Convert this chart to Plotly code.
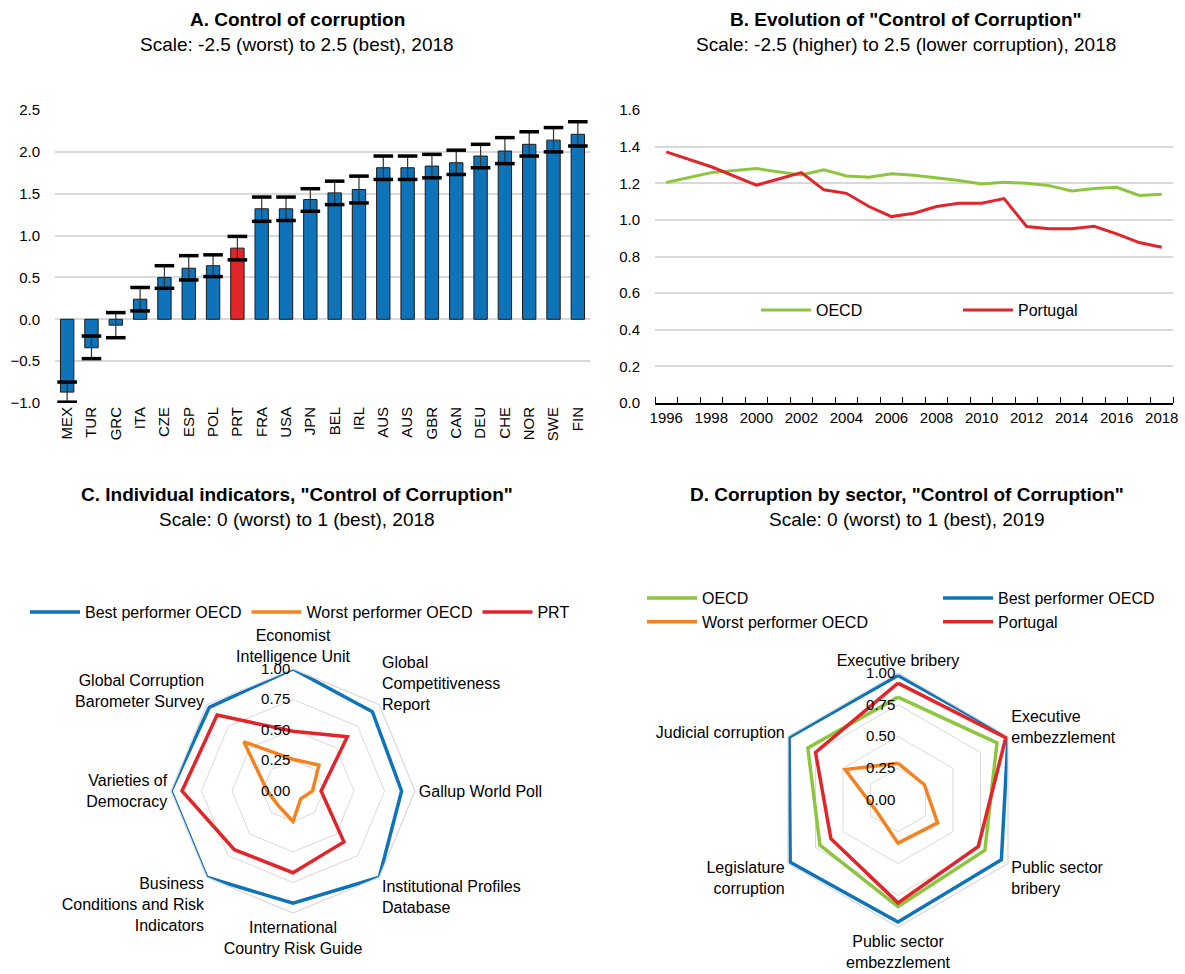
import plotly.graph_objects as go

W, H = 1185, 974
FONT = "Liberation Sans, Arial, sans-serif"

BLUE = "#0f73ba"
RED = "#e2242b"
GREEN = "#8cc63f"
ORANGE = "#f58220"
GRID = "#d9d9d9"

# ---------------- Panel A data ----------------
countries = ["MEX", "TUR", "GRC", "ITA", "CZE", "ESP", "POL", "PRT", "FRA", "USA", "JPN",
             "BEL", "IRL", "AUS", "AUS", "GBR", "CAN", "DEU", "CHE", "NOR", "SWE", "FIN"]
estimate = [-0.87, -0.34, -0.07, 0.24, 0.50, 0.61, 0.64, 0.85, 1.32, 1.32, 1.43,
            1.51, 1.55, 1.81, 1.81, 1.83, 1.87, 1.95, 2.01, 2.09, 2.14, 2.21]
ci_low = [-0.99, -0.47, -0.22, 0.10, 0.37, 0.47, 0.51, 0.71, 1.17, 1.18, 1.29,
          1.37, 1.39, 1.67, 1.67, 1.69, 1.73, 1.81, 1.86, 1.95, 2.00, 2.07]
ci_high = [-0.75, -0.20, 0.08, 0.38, 0.64, 0.76, 0.77, 0.99, 1.46, 1.46, 1.56,
           1.65, 1.71, 1.95, 1.95, 1.97, 2.02, 2.09, 2.17, 2.24, 2.29, 2.36]
highlight = "PRT"
a_yticks = [-1.0, -0.5, 0.0, 0.5, 1.0, 1.5, 2.0, 2.5]

# ---------------- Panel B data ----------------
years = [1996, 1998, 2000, 2002, 2003, 2004, 2005, 2006, 2007, 2008, 2009, 2010,
         2011, 2012, 2013, 2014, 2015, 2016, 2017, 2018]
oecd_cc = [1.204, 1.258, 1.280, 1.245, 1.273, 1.240, 1.233, 1.252, 1.244, 1.231,
           1.215, 1.196, 1.205, 1.200, 1.187, 1.158, 1.171, 1.178, 1.133, 1.140]
prt_cc = [1.371, 1.290, 1.189, 1.258, 1.164, 1.145, 1.073, 1.018, 1.036, 1.073,
          1.091, 1.091, 1.116, 0.964, 0.951, 0.951, 0.965, 0.924, 0.876, 0.851]
b_xlabels = [1996, 1998, 2000, 2002, 2004, 2006, 2008, 2010, 2012, 2014, 2016, 2018]

# ---------------- Panel C data ----------------
indicators = ["Economist<br>Intelligence Unit", "Global<br>Competitiveness<br>Report",
              "Gallup World Poll", "Institutional Profiles<br>Database",
              "International<br>Country Risk Guide",
              "Business<br>Conditions and Risk<br>Indicators",
              "Varieties of<br>Democracy", "Global Corruption<br>Barometer Survey"]
c_best = [1.00, 0.92, 0.89, 1.00, 0.92, 1.00, 1.00, 0.97]
c_worst = [0.26, 0.30, 0.16, 0.09, 0.25, 0.17, 0.21, 0.57]
c_prt = [0.49, 0.63, 0.23, 0.59, 0.67, 0.68, 0.91, 0.88]

# ---------------- Panel D data ----------------
sectors = ["Executive bribery", "Executive<br>embezzlement", "Public sector<br>bribery",
           "Public sector<br>embezzlement", "Legislature<br>corruption", "Judicial corruption"]
d_oecd = [0.81, 0.90, 0.79, 0.84, 0.71, 0.82]
d_best = [0.98, 1.00, 0.94, 0.96, 0.98, 0.99]
d_worst = [0.29, 0.24, 0.36, 0.34, 0.19, 0.48]
d_prt = [0.92, 0.98, 0.73, 0.81, 0.61, 0.75]

radar_ticks = [0.0, 0.25, 0.5, 0.75, 1.0]


def px_x(p):
    return p / W


def px_y(p):
    return (H - p) / H


fig = go.Figure()

# ---------- Panel A ----------
idx = list(range(len(countries)))
bar_colors = [RED if c == highlight else BLUE for c in countries]
fig.add_trace(go.Bar(
    x=idx, y=estimate, width=0.55,
    marker=dict(color=bar_colors, line=dict(color="#1a1a1a", width=1)),
    error_y=dict(type="data", symmetric=False,
                 array=[h - e for h, e in zip(ci_high, estimate)],
                 arrayminus=[e - l for e, l in zip(estimate, ci_low)],
                 color="#333333", thickness=1.2, width=0),
    showlegend=False, xaxis="x", yaxis="y"))
fig.add_trace(go.Scatter(
    x=idx + idx, y=ci_low + ci_high, mode="markers",
    marker=dict(symbol="line-ew", size=14, line=dict(color="black", width=3.5)),
    showlegend=False, hoverinfo="skip", xaxis="x", yaxis="y"))

# ---------- Panel B ----------
fig.add_trace(go.Scatter(x=years, y=oecd_cc, mode="lines", name="OECD",
                         line=dict(color=GREEN, width=3), xaxis="x3", yaxis="y3",
                         legend="legend"))
fig.add_trace(go.Scatter(x=years, y=prt_cc, mode="lines", name="Portugal",
                         line=dict(color=RED, width=3), xaxis="x3", yaxis="y3",
                         legend="legend"))


def closed(v):
    return v + v[:1]


# ---------- Panel C ----------
for vals, name, col in [(c_best, "Best performer OECD", BLUE),
                        (c_worst, "Worst performer OECD", ORANGE),
                        (c_prt, "PRT", RED)]:
    fig.add_trace(go.Scatterpolar(r=closed(vals), theta=closed(indicators), mode="lines",
                                  name=name, line=dict(color=col, width=3.5),
                                  subplot="polar", legend="legend2"))

# ---------- Panel D ----------
for vals, name, col, lg in [(d_oecd, "OECD", GREEN, "legend3"),
                            (d_worst, "Worst performer OECD", ORANGE, "legend3"),
                            (d_best, "Best performer OECD", BLUE, "legend4"),
                            (d_prt, "Portugal", RED, "legend4")]:
    fig.add_trace(go.Scatterpolar(r=closed(vals), theta=closed(sectors), mode="lines",
                                  name=name, line=dict(color=col, width=3.5),
                                  subplot="polar2", legend=lg))

tickfont = dict(family=FONT, size=15, color="black")
legfont = dict(family=FONT, size=16, color="black")

# domains
a_dom_x = [px_x(55), px_x(590)]
b_dom_x = [px_x(655), px_x(1173)]
top_dom_y = [px_y(403), px_y(110)]
a_range = [-1.0, 2.5]
zero_pos = top_dom_y[0] + (0 - a_range[0]) / (a_range[1] - a_range[0]) * (top_dom_y[1] - top_dom_y[0])

polar_common_radial = dict(range=[0, 1], tickvals=radar_ticks, tickformat=".2f",
                           showline=False, ticks="", angle=90, tickangle=90,
                           side="counterclockwise",
                           gridcolor=GRID, gridwidth=1.2,
                           tickfont=dict(family=FONT, size=15, color="black"))
polar_common_ang = dict(direction="clockwise", rotation=90, showgrid=False,
                        showline=True, linecolor=GRID, linewidth=1.2, ticks="",
                        tickfont=dict(family=FONT, size=16, color="black"))

fig.update_layout(
    width=W, height=H, margin=dict(l=0, r=0, t=0, b=0, autoexpand=False),
    paper_bgcolor="white", plot_bgcolor="white",
    font=dict(family=FONT, size=16, color="black"),
    xaxis=dict(domain=a_dom_x, anchor="y", range=[-0.5, len(countries) - 0.5],
               tickvals=idx, ticktext=countries, tickangle=-90, ticks="",
               showline=False, showgrid=False, zeroline=False, tickfont=tickfont,
               ticklabelstandoff=0),
    xaxis2=dict(domain=a_dom_x, overlaying="x", anchor="free", position=zero_pos,
                range=[-0.5, len(countries) - 0.5],
                tickvals=[i - 0.5 for i in range(len(countries) + 1)],
                ticks="inside", ticklen=5, tickcolor="black", tickwidth=1.2,
                showticklabels=False, showline=True, linecolor="black", linewidth=1.5,
                showgrid=False, zeroline=False),
    yaxis=dict(domain=top_dom_y, anchor="x", range=a_range, tickvals=a_yticks,
               tickformat=".1f", showgrid=True, gridcolor=GRID, gridwidth=1.5,
               zeroline=False, showline=False, ticks="", tickfont=tickfont,
               ticklabelstandoff=14),
    xaxis3=dict(domain=b_dom_x, anchor="y3", range=[1995.5, 2018.5], tickvals=b_xlabels,
                ticks="", tickangle=0, showline=True, linecolor="black", linewidth=1.5,
                showgrid=False, zeroline=False, tickfont=tickfont,
                minor=dict(tickvals=[y + 0.5 for y in range(1995, 2019)], ticks="inside",
                           ticklen=6, tickcolor="black", tickwidth=1.2, showgrid=False)),
    yaxis3=dict(domain=top_dom_y, anchor="x3", range=[0, 1.6], dtick=0.2, tickformat=".1f",
                showgrid=True, gridcolor=GRID, gridwidth=1.5, zeroline=False,
                showline=False, ticks="", tickfont=tickfont, ticklabelstandoff=14),
    polar=dict(domain=dict(x=[px_x(171), px_x(415)], y=[px_y(913), px_y(669)]),
               bgcolor="white", gridshape="linear",
               radialaxis=polar_common_radial, angularaxis=polar_common_ang),
    polar2=dict(domain=dict(x=[px_x(771), px_x(1025)], y=[px_y(927), px_y(673)]),
                bgcolor="white", gridshape="linear",
                radialaxis=polar_common_radial, angularaxis=polar_common_ang),
    legend=dict(orientation="h", x=px_x(756), y=px_y(310), xanchor="left", yanchor="middle",
                entrywidth=137, itemwidth=50, bgcolor="rgba(0,0,0,0)", font=legfont),
    legend2=dict(orientation="h", x=px_x(25), y=px_y(612), xanchor="left", yanchor="middle",
                 itemwidth=50, bgcolor="rgba(0,0,0,0)", font=legfont),
    legend3=dict(orientation="v", x=px_x(642), y=px_y(581), xanchor="left", yanchor="top",
                 itemwidth=50, tracegroupgap=0, bgcolor="rgba(0,0,0,0)", font=legfont),
    legend4=dict(orientation="v", x=px_x(938), y=px_y(581), xanchor="left", yanchor="top",
                 itemwidth=50, tracegroupgap=0, bgcolor="rgba(0,0,0,0)", font=legfont),
)

titles = [
    (297, 20, "<b>A. Control of corruption</b>"),
    (297, 45, "Scale: -2.5 (worst) to 2.5 (best), 2018"),
    (906, 20, "<b>B. Evolution of \"Control of Corruption\"</b>"),
    (906, 45, "Scale: -2.5 (higher) to 2.5 (lower corruption), 2018"),
    (297, 494, "<b>C. Individual indicators, \"Control of Corruption\"</b>"),
    (297, 519, "Scale: 0 (worst) to 1 (best), 2018"),
    (907, 494, "<b>D. Corruption by sector, \"Control of Corruption\"</b>"),
    (907, 519, "Scale: 0 (worst) to 1 (best), 2019"),
]
for xp, yp, txt in titles:
    fig.add_annotation(x=px_x(xp), y=px_y(yp), xref="paper", yref="paper", text=txt,
                       showarrow=False, xanchor="center", yanchor="middle",
                       font=dict(family=FONT, size=19, color="black"))

fig.write_html("out.html", config={"displayModeBar": False},
               post_script="document.body.style.margin='0px';")
